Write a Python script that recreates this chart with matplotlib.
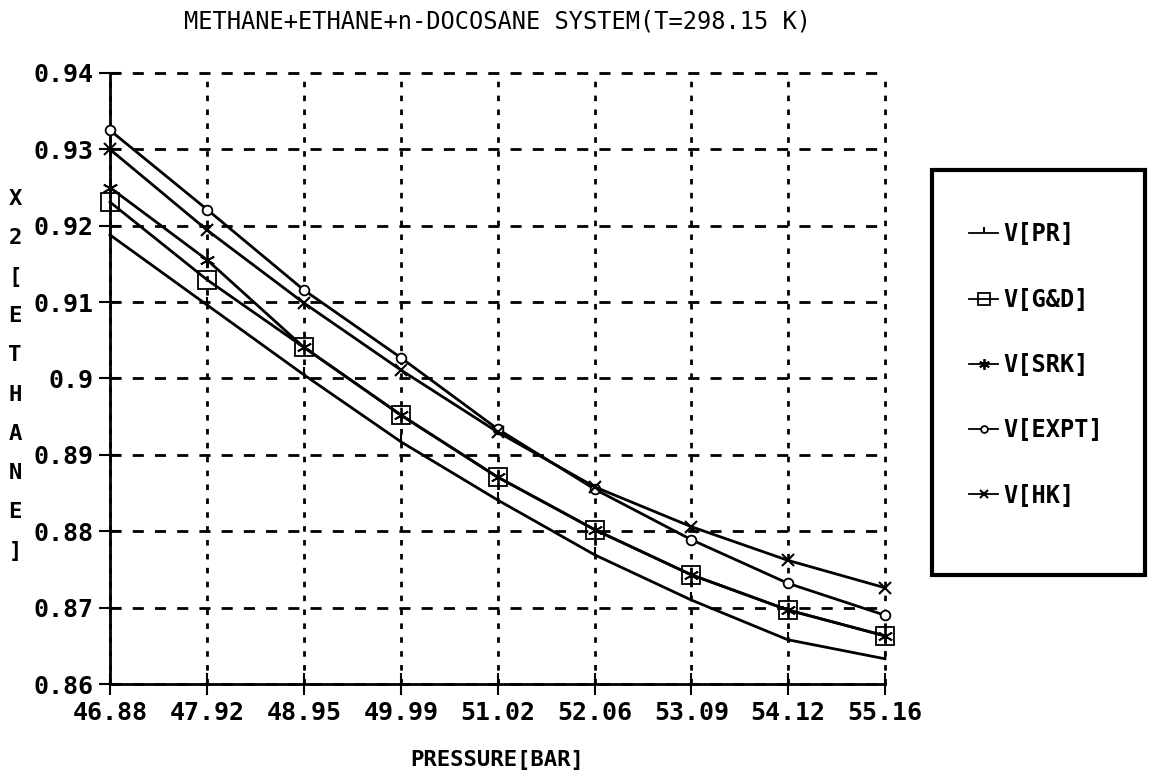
import numpy as np
import matplotlib
matplotlib.use("Agg")
import matplotlib.pyplot as plt
import matplotlib.patches as mpl_patches
from matplotlib.ticker import FixedLocator, FixedFormatter

# pressure [bar]
pressure = [46.88, 47.92, 48.95, 49.99, 51.02, 52.06, 53.09, 54.12, 55.16]
x_ticklabels = ['46.88', '47.92', '48.95', '49.99', '51.02', '52.06', '53.09', '54.12', '55.16']

# X2 [ethane] for each method
v_pr = [0.9188, 0.9096, 0.9005, 0.8917, 0.8841, 0.8769, 0.8710, 0.8658, 0.8633]
v_gd = [0.9231, 0.9129, 0.9041, 0.8952, 0.8871, 0.8802, 0.8743, 0.8697, 0.8663]
v_srk = [0.9250, 0.9155, 0.9041, 0.8952, 0.8871, 0.8802, 0.8743, 0.8697, 0.8663]
v_expt = [0.9325, 0.9221, 0.9116, 0.9027, 0.8934, 0.8855, 0.8789, 0.8732, 0.8690]
v_hk = [0.9300, 0.9194, 0.9099, 0.9011, 0.8930, 0.8858, 0.8806, 0.8762, 0.8726]

y_ticks = [0.86, 0.87, 0.88, 0.89, 0.90, 0.91, 0.92, 0.93, 0.94]
y_ticklabels = ['0.86', '0.87', '0.88', '0.89', '0.9', '0.91', '0.92', '0.93', '0.94']

sFont = 'DejaVu Sans Mono'

fig = plt.figure(figsize=(11.51, 7.78), dpi=100)
fig.patch.set_facecolor('white')
ax = fig.add_axes([110/1151, 1 - 684/778, (885-110)/1151, (684-73)/778])

series = [
    (v_pr, 'V[PR]', dict(marker=2, markersize=6, markeredgewidth=1.5)),
    (v_gd, 'V[G&D]', dict(marker='s', markersize=13, markerfacecolor='none', markeredgewidth=1.3)),
    (v_srk, 'V[SRK]', dict(marker=(6, 2, 0), markersize=11, markeredgewidth=1.3)),
    (v_expt, 'V[EXPT]', dict(marker='o', markersize=7, markerfacecolor='white', markeredgewidth=1.3)),
    (v_hk, 'V[HK]', dict(marker='x', markersize=9, markeredgewidth=1.5)),
]
lines = []
for aY, sLabel, dStyle in series:
    l, = ax.plot(pressure, aY, color='black', linewidth=2.0, label=sLabel,
                 clip_on=False, zorder=3, **dStyle)
    lines.append(l)

ax.set_xlim(pressure[0], pressure[-1])
ax.set_ylim(0.86, 0.94)
ax.xaxis.set_major_locator(FixedLocator(pressure))
ax.xaxis.set_major_formatter(FixedFormatter(x_ticklabels))
ax.yaxis.set_major_locator(FixedLocator(y_ticks))
ax.yaxis.set_major_formatter(FixedFormatter(y_ticklabels))

ax.spines['top'].set_visible(False)
ax.spines['right'].set_visible(False)
ax.spines['left'].set_linewidth(2)
ax.spines['bottom'].set_linewidth(2)
ax.tick_params(direction='inout', length=16, width=1.5, labelsize=18, pad=4)
for lab in ax.get_xticklabels() + ax.get_yticklabels():
    lab.set_fontfamily(sFont)
    lab.set_fontweight('bold')

ax.grid(which='major', axis='y', color='black', linestyle=(0, (4, 4)), linewidth=2)
ax.grid(which='major', axis='x', color='black', linestyle=(0, (2, 3)), linewidth=2)
ax.set_axisbelow(True)
for gl in ax.get_xgridlines() + ax.get_ygridlines():
    gl.set_clip_on(False)

fig.text(497/1151, 1 - 22/778, 'METHANE+ETHANE+n-DOCOSANE SYSTEM(T=298.15 K)',
         ha='center', va='center', fontsize=17, family=sFont)
fig.text(497/1151, 1 - 760/778, 'PRESSURE[BAR]', ha='center', va='center',
         fontsize=16, family=sFont, fontweight='bold')
fig.text(15/1151, 1 - 375/778, '\n'.join('X2[ETHANE]'), ha='center', va='center',
         fontsize=16, family=sFont, fontweight='bold', linespacing=2.2)

# legend frame
fig.patches.append(mpl_patches.Rectangle((932/1151, 1 - 575/778), (1145-932)/1151, (575-170)/778,
                                         transform=fig.transFigure, fill=False,
                                         edgecolor='black', linewidth=3))
leg = fig.legend(handles=lines, loc='upper left', bbox_to_anchor=(960/1151, 1 - 213/778),
                 frameon=False, fontsize=17, labelspacing=1.75, handlelength=1.2,
                 handletextpad=0.25, borderaxespad=0)
for t in leg.get_texts():
    t.set_fontfamily(sFont)
    t.set_fontweight('bold')
for h in leg.legend_handles:
    h.set_linewidth(1.3)
    h.set_markersize(h.get_markersize() * 0.7)

plt.savefig('out.png', dpi=100)
plt.close('all')
